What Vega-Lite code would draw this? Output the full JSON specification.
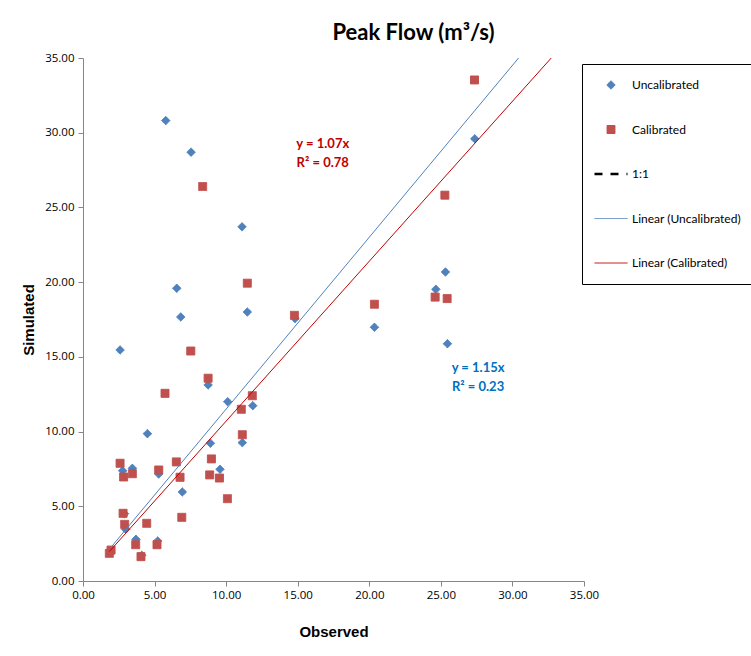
{
  "$schema": "https://vega.github.io/schema/vega-lite/v6.json",
  "width": 501,
  "height": 523,
  "autosize": {"type": "none"},
  "padding": {"left": 83, "top": 58, "right": 167, "bottom": 75},
  "background": "white",
  "config": {
    "view": {"stroke": null},
    "font": "Lato",
    "axis": {
      "domainColor": "#868686",
      "tickColor": "#868686",
      "grid": false,
      "labelFont": "Open Sans",
      "labelFontSize": 11.5,
      "labelColor": "#000000",
      "titleFont": "Liberation Sans",
      "titleFontSize": 15,
      "titleFontWeight": "bold",
      "titleColor": "#000000",
      "tickSize": 5,
      "labelFlush": false,
      "labelOverlap": false
    }
  },
  "title": {
    "text": "Peak Flow (m³/s)",
    "font": "Lato",
    "fontSize": 22,
    "fontWeight": "bold",
    "color": "#000000",
    "anchor": "middle",
    "dx": 80,
    "offset": 7
  },
  "datasets": {
    "points": [
      {"series": "Uncalibrated", "observed": 5.78, "simulated": 30.81},
      {"series": "Uncalibrated", "observed": 7.55, "simulated": 28.7},
      {"series": "Uncalibrated", "observed": 11.11, "simulated": 23.7},
      {"series": "Uncalibrated", "observed": 6.55, "simulated": 19.59},
      {"series": "Uncalibrated", "observed": 11.48, "simulated": 18.0},
      {"series": "Uncalibrated", "observed": 6.83, "simulated": 17.67},
      {"series": "Uncalibrated", "observed": 2.59, "simulated": 15.46},
      {"series": "Uncalibrated", "observed": 8.74, "simulated": 13.12},
      {"series": "Uncalibrated", "observed": 10.11, "simulated": 12.0},
      {"series": "Uncalibrated", "observed": 11.86, "simulated": 11.73},
      {"series": "Uncalibrated", "observed": 4.5, "simulated": 9.86},
      {"series": "Uncalibrated", "observed": 11.13, "simulated": 9.26},
      {"series": "Uncalibrated", "observed": 8.9, "simulated": 9.22},
      {"series": "Uncalibrated", "observed": 2.77, "simulated": 7.38},
      {"series": "Uncalibrated", "observed": 3.45, "simulated": 7.54},
      {"series": "Uncalibrated", "observed": 5.29, "simulated": 7.16},
      {"series": "Uncalibrated", "observed": 6.94, "simulated": 5.96},
      {"series": "Uncalibrated", "observed": 9.57, "simulated": 7.48},
      {"series": "Uncalibrated", "observed": 2.9, "simulated": 4.5},
      {"series": "Uncalibrated", "observed": 2.98, "simulated": 3.46},
      {"series": "Uncalibrated", "observed": 3.7, "simulated": 2.79},
      {"series": "Uncalibrated", "observed": 5.22, "simulated": 2.68},
      {"series": "Uncalibrated", "observed": 4.1, "simulated": 1.72},
      {"series": "Uncalibrated", "observed": 1.9, "simulated": 2.0},
      {"series": "Uncalibrated", "observed": 14.81, "simulated": 17.56},
      {"series": "Uncalibrated", "observed": 20.36, "simulated": 16.98},
      {"series": "Uncalibrated", "observed": 27.37, "simulated": 29.59},
      {"series": "Uncalibrated", "observed": 25.32, "simulated": 20.68},
      {"series": "Uncalibrated", "observed": 24.65, "simulated": 19.52},
      {"series": "Uncalibrated", "observed": 25.46, "simulated": 15.88},
      {"series": "Calibrated", "observed": 8.36, "simulated": 26.4},
      {"series": "Calibrated", "observed": 11.48, "simulated": 19.93},
      {"series": "Calibrated", "observed": 7.53, "simulated": 15.39},
      {"series": "Calibrated", "observed": 8.74, "simulated": 13.57},
      {"series": "Calibrated", "observed": 5.73, "simulated": 12.56},
      {"series": "Calibrated", "observed": 11.83, "simulated": 12.4},
      {"series": "Calibrated", "observed": 11.06, "simulated": 11.49},
      {"series": "Calibrated", "observed": 11.13, "simulated": 9.79},
      {"series": "Calibrated", "observed": 2.59, "simulated": 7.88},
      {"series": "Calibrated", "observed": 2.84, "simulated": 6.96},
      {"series": "Calibrated", "observed": 3.45, "simulated": 7.18},
      {"series": "Calibrated", "observed": 5.29, "simulated": 7.43},
      {"series": "Calibrated", "observed": 6.52, "simulated": 7.97},
      {"series": "Calibrated", "observed": 6.78, "simulated": 6.94},
      {"series": "Calibrated", "observed": 8.97, "simulated": 8.17},
      {"series": "Calibrated", "observed": 8.85, "simulated": 7.1},
      {"series": "Calibrated", "observed": 9.53, "simulated": 6.89},
      {"series": "Calibrated", "observed": 10.09, "simulated": 5.51},
      {"series": "Calibrated", "observed": 2.8, "simulated": 4.53},
      {"series": "Calibrated", "observed": 2.91, "simulated": 3.79},
      {"series": "Calibrated", "observed": 4.45, "simulated": 3.86},
      {"series": "Calibrated", "observed": 6.9, "simulated": 4.26},
      {"series": "Calibrated", "observed": 3.68, "simulated": 2.43},
      {"series": "Calibrated", "observed": 5.17, "simulated": 2.43},
      {"series": "Calibrated", "observed": 4.05, "simulated": 1.63},
      {"series": "Calibrated", "observed": 1.96, "simulated": 2.07},
      {"series": "Calibrated", "observed": 1.84, "simulated": 1.85},
      {"series": "Calibrated", "observed": 14.77, "simulated": 17.78},
      {"series": "Calibrated", "observed": 20.36, "simulated": 18.52},
      {"series": "Calibrated", "observed": 27.35, "simulated": 33.53},
      {"series": "Calibrated", "observed": 25.28, "simulated": 25.82},
      {"series": "Calibrated", "observed": 24.6, "simulated": 19.0},
      {"series": "Calibrated", "observed": 25.44, "simulated": 18.9}
    ],
    "trend": [
      {"series": "Linear (Uncalibrated)", "observed": 1.9, "simulated": 2.19},
      {"series": "Linear (Uncalibrated)", "observed": 30.43, "simulated": 35.0},
      {"series": "Linear (Calibrated)", "observed": 1.84, "simulated": 1.97},
      {"series": "Linear (Calibrated)", "observed": 32.71, "simulated": 35.0}
    ],
    "labels": [
      {"group": "cal", "label": "y = 1.07x", "observed": 16.75, "simulated": 29.25},
      {"group": "cal", "label": "R² = 0.78", "observed": 16.75, "simulated": 27.98},
      {"group": "uncal", "label": "y = 1.15x", "observed": 27.6, "simulated": 14.26},
      {"group": "uncal", "label": "R² = 0.23", "observed": 27.6, "simulated": 12.99}
    ]
  },
  "layer": [
    {
      "data": {"name": "points"},
      "mark": {"type": "point", "filled": true, "opacity": 1},
      "encoding": {
        "x": {
          "field": "observed",
          "type": "quantitative",
          "scale": {"domain": [0, 35], "nice": false},
          "axis": {
            "values": [0, 5, 10, 15, 20, 25, 30, 35],
            "format": ".2f",
            "title": "Observed",
            "labelPadding": 3,
            "titlePadding": 24
          }
        },
        "y": {
          "field": "simulated",
          "type": "quantitative",
          "scale": {"domain": [0, 35], "nice": false},
          "axis": {
            "values": [0, 5, 10, 15, 20, 25, 30, 35],
            "format": ".2f",
            "title": "Simulated",
            "labelPadding": 4,
            "titlePadding": 8
          }
        },
        "color": {
          "field": "series",
          "type": "nominal",
          "scale": {
            "domain": ["Uncalibrated", "Calibrated", "1:1", "Linear (Uncalibrated)", "Linear (Calibrated)"],
            "range": ["#4F81BD", "#C0504D", "#000000", "#4F81BD", "#C00000"]
          },
          "legend": {
            "title": null,
            "orient": "none",
            "legendX": 499,
            "legendY": 6,
            "strokeColor": "#000000",
            "fillColor": "#ffffff",
            "padding": 11,
            "symbolOffset": 0,
            "clipHeight": 20,
            "rowPadding": 24.5,
            "labelFont": "Lato",
            "labelFontSize": 12,
            "labelColor": "#000000",
            "labelOffset": 3,
            "labelLimit": 300,
            "symbolOpacity": 1
          }
        },
        "stroke": {
          "field": "series",
          "type": "nominal",
          "scale": {
            "domain": ["Uncalibrated", "Calibrated", "1:1", "Linear (Uncalibrated)", "Linear (Calibrated)"],
            "range": ["#4F81BD", "#C0504D", "#000000", "#4F81BD", "#C00000"]
          }
        },
        "shape": {
          "field": "series",
          "type": "nominal",
          "scale": {
            "domain": ["Uncalibrated", "Calibrated", "1:1", "Linear (Uncalibrated)", "Linear (Calibrated)"],
            "range": ["diamond", "square", "stroke", "stroke", "stroke"]
          }
        },
        "size": {
          "field": "series",
          "type": "nominal",
          "scale": {
            "type": "ordinal",
            "domain": ["Uncalibrated", "Calibrated", "1:1", "Linear (Uncalibrated)", "Linear (Calibrated)"],
            "range": [72, 64, 1089, 1089, 1089]
          }
        },
        "strokeWidth": {
          "field": "series",
          "type": "nominal",
          "scale": {
            "type": "ordinal",
            "domain": ["Uncalibrated", "Calibrated", "1:1", "Linear (Uncalibrated)", "Linear (Calibrated)"],
            "range": [1, 1, 2.5, 1, 1]
          }
        },
        "strokeDash": {
          "field": "series",
          "type": "nominal",
          "scale": {
            "domain": ["Uncalibrated", "Calibrated", "1:1", "Linear (Uncalibrated)", "Linear (Calibrated)"],
            "range": [[1, 0], [1, 0], [8, 8], [1, 0], [1, 0]]
          }
        }
      }
    },
    {
      "data": {"name": "trend"},
      "transform": [{"filter": "datum.series === 'Linear (Uncalibrated)'"}],
      "mark": {"type": "line", "strokeWidth": 1, "color": "#4F81BD", "clip": true},
      "encoding": {
        "x": {"field": "observed", "type": "quantitative"},
        "y": {"field": "simulated", "type": "quantitative"}
      }
    },
    {
      "data": {"name": "trend"},
      "transform": [{"filter": "datum.series === 'Linear (Calibrated)'"}],
      "mark": {"type": "line", "strokeWidth": 1, "color": "#C00000", "clip": true},
      "encoding": {
        "x": {"field": "observed", "type": "quantitative"},
        "y": {"field": "simulated", "type": "quantitative"}
      }
    },
    {
      "data": {"name": "labels"},
      "transform": [{"filter": "datum.group === 'cal'"}],
      "mark": {"type": "text", "font": "Lato", "fontSize": 13, "fontWeight": "bold", "color": "#C00000"},
      "encoding": {
        "x": {"field": "observed", "type": "quantitative"},
        "y": {"field": "simulated", "type": "quantitative"},
        "text": {"field": "label"}
      }
    },
    {
      "data": {"name": "labels"},
      "transform": [{"filter": "datum.group === 'uncal'"}],
      "mark": {"type": "text", "font": "Lato", "fontSize": 13, "fontWeight": "bold", "color": "#0070C0"},
      "encoding": {
        "x": {"field": "observed", "type": "quantitative"},
        "y": {"field": "simulated", "type": "quantitative"},
        "text": {"field": "label"}
      }
    }
  ]
}
